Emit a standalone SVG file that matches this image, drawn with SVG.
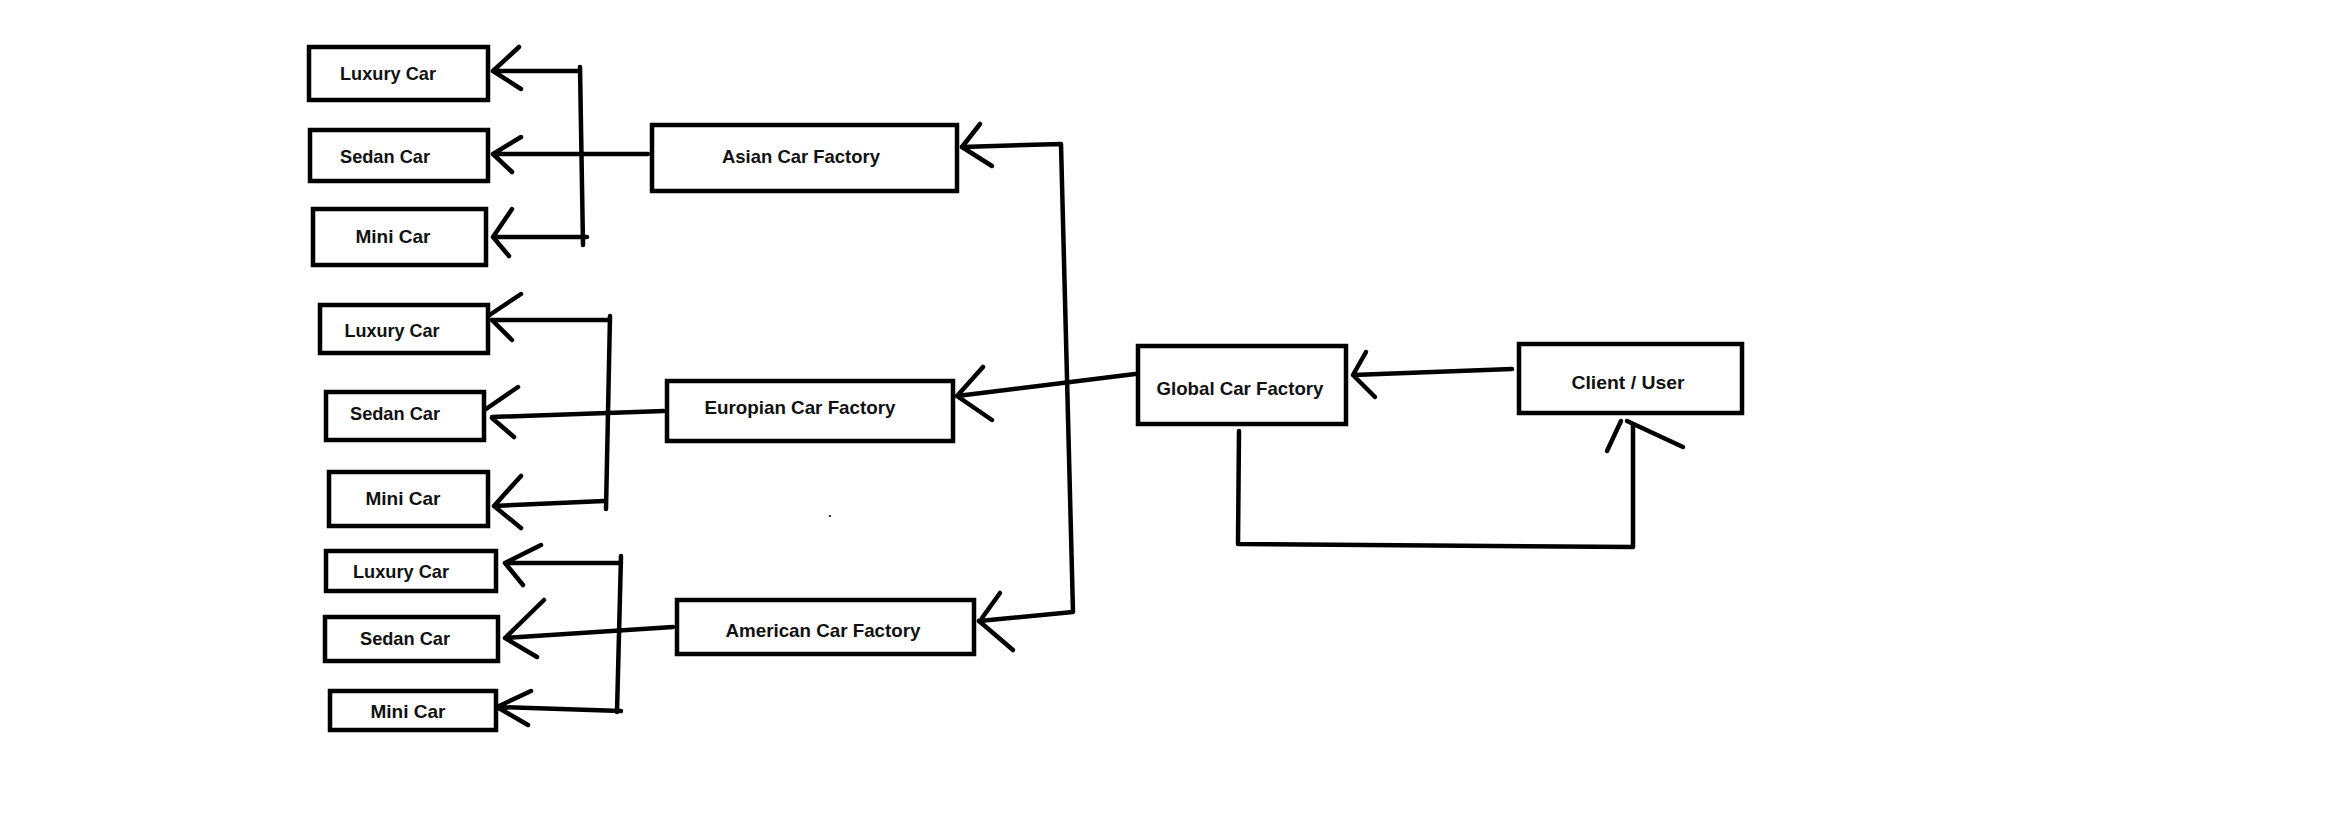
<svg xmlns="http://www.w3.org/2000/svg" width="2326" height="816" viewBox="0 0 2326 816">
<style>
.box{fill:#fff;stroke:#000;stroke-width:4.5}
.lbl{font-family:"Liberation Sans",Arial,sans-serif;font-weight:bold;font-size:19px;fill:#111;text-anchor:middle}
.ln{fill:none;stroke:#000;stroke-width:4.5;stroke-linecap:round;stroke-linejoin:round}
</style>
<rect width="2326" height="816" fill="#fff"/>
<g id="connectors">
<!-- Asian group -->
<path class="ln" d="M580,67 L583,245"/>
<path class="ln" d="M493,71 L580,71 M493,71 L519,47 M493,71 L521,89"/>
<path class="ln" d="M493,154 L648,154 M493,154 L521,137 M493,154 L512,172"/>
<path class="ln" d="M493,237 L587,237 M493,237 L512,209 M493,237 L509,256"/>
<!-- European group -->
<path class="ln" d="M610,316 L606,509"/>
<path class="ln" d="M492,320 L610,320 M488,316 L521,294 M492,320 L512,340"/>
<path class="ln" d="M492,417 L664,411 M486,409 L518,387 M492,418 L514,437"/>
<path class="ln" d="M494,506 L604,501 M494,506 L521,476 M494,506 L521,528"/>
<!-- American group -->
<path class="ln" d="M621,556 L617,712"/>
<path class="ln" d="M505,563 L621,563 M505,563 L541,545 M505,563 L523,585"/>
<path class="ln" d="M505,638 L673,627 M505,638 L544,600 M505,638 L537,657"/>
<path class="ln" d="M497,707 L621,711 M497,707 L531,691 M497,707 L528,725"/>
<!-- Global to regional factories -->
<path class="ln" d="M962,147 L1061,144 L1073,612 L979,621"/>
<path class="ln" d="M962,147 L980,124 M962,147 L992,166"/>
<path class="ln" d="M982,618 L1000,593 M979,621 L1013,650"/>
<path class="ln" d="M1135,374 L957,396 M957,396 L983,367 M957,396 L992,420"/>
<!-- Client to Global -->
<path class="ln" d="M1512,369 L1353,375 M1353,375 L1366,352 M1353,375 L1375,397"/>
<!-- Global back to Client -->
<path class="ln" d="M1239,431 L1238,544 L1633,547 L1633,425"/>
<path class="ln" d="M1621,421 L1607,451 M1627,421 L1683,447"/>
</g>
<rect x="829" y="515" width="2" height="2" fill="#333"/>
<g id="asian-luxury"><rect class="box" x="309" y="47" width="179" height="53"/><text class="lbl" x="388" y="80" textLength="96" lengthAdjust="spacingAndGlyphs">Luxury Car</text></g>
<g id="asian-sedan"><rect class="box" x="310" y="130" width="178" height="51"/><text class="lbl" x="385" y="163" textLength="90" lengthAdjust="spacingAndGlyphs">Sedan Car</text></g>
<g id="asian-mini"><rect class="box" x="313" y="209" width="173" height="56"/><text class="lbl" x="393" y="243" textLength="75" lengthAdjust="spacingAndGlyphs">Mini Car</text></g>
<g id="asian-factory"><rect class="box" x="652" y="125" width="305" height="66"/><text class="lbl" x="801" y="163" textLength="158" lengthAdjust="spacingAndGlyphs">Asian Car Factory</text></g>
<g id="euro-luxury"><rect class="box" x="320" y="305" width="168" height="48"/><text class="lbl" x="392" y="337" textLength="95" lengthAdjust="spacingAndGlyphs">Luxury Car</text></g>
<g id="euro-sedan"><rect class="box" x="326" y="392" width="158" height="48"/><text class="lbl" x="395" y="420" textLength="90" lengthAdjust="spacingAndGlyphs">Sedan Car</text></g>
<g id="euro-mini"><rect class="box" x="329" y="472" width="159" height="54"/><text class="lbl" x="403" y="505" textLength="75" lengthAdjust="spacingAndGlyphs">Mini Car</text></g>
<g id="euro-factory"><rect class="box" x="667" y="381" width="286" height="60"/><text class="lbl" x="800" y="414" textLength="191" lengthAdjust="spacingAndGlyphs">Europian Car Factory</text></g>
<g id="amer-luxury"><rect class="box" x="326" y="551" width="170" height="40"/><text class="lbl" x="401" y="578" textLength="96" lengthAdjust="spacingAndGlyphs">Luxury Car</text></g>
<g id="amer-sedan"><rect class="box" x="325" y="617" width="173" height="44"/><text class="lbl" x="405" y="645" textLength="90" lengthAdjust="spacingAndGlyphs">Sedan Car</text></g>
<g id="amer-mini"><rect class="box" x="330" y="691" width="166" height="39"/><text class="lbl" x="408" y="718" textLength="75" lengthAdjust="spacingAndGlyphs">Mini Car</text></g>
<g id="amer-factory"><rect class="box" x="677" y="600" width="297" height="54"/><text class="lbl" x="823" y="637" textLength="195" lengthAdjust="spacingAndGlyphs">American Car Factory</text></g>
<g id="global-factory"><rect class="box" x="1138" y="346" width="208" height="78"/><text class="lbl" x="1240" y="395" textLength="167" lengthAdjust="spacingAndGlyphs">Global Car Factory</text></g>
<g id="client"><rect class="box" x="1519" y="344" width="223" height="69"/><text class="lbl" x="1628" y="389" textLength="113" lengthAdjust="spacingAndGlyphs">Client / User</text></g>
</svg>
